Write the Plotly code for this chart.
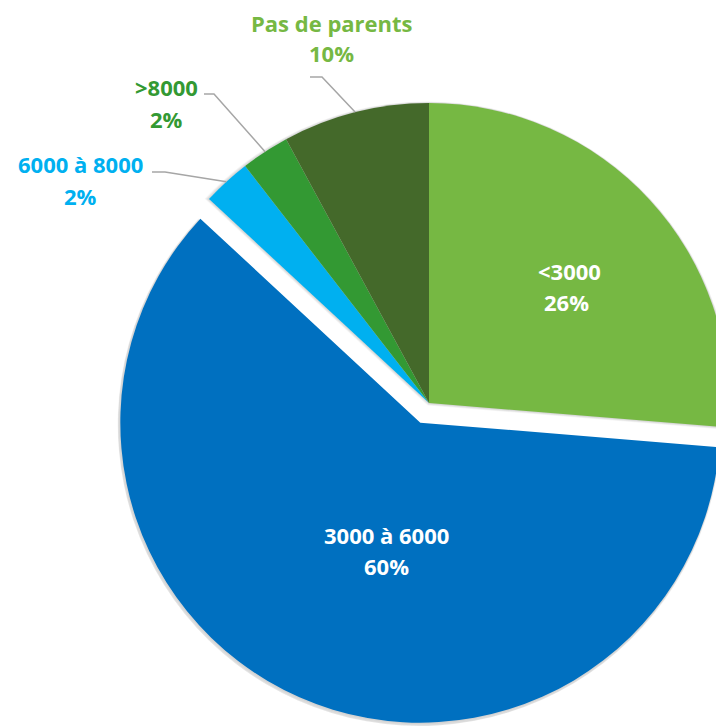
import math
import plotly.graph_objects as go

# ---- data ----
categories = ["<3000", "3000 à 6000", "6000 à 8000", ">8000", "Pas de parents"]
values = [26.3, 60.6, 2.6, 2.6, 7.9]          # shares as drawn (slice angles)
pct_labels = ["26%", "60%", "2%", "2%", "10%"]  # percentages printed on the chart
colors = ["#76B843", "#0070C0", "#00B0F0", "#339933", "#44692A"]
label_colors = ["#FFFFFF", "#FFFFFF", "#00B0F0", "#339933", "#76B843"]
pulled = 1  # index of the exploded slice

# page body has an 8px margin: figure is drawn 8px in from the window corner
OFF = 8
WIN_W, WIN_H = 724, 726
W, H = WIN_W, WIN_H - OFF
CX, CY, R = 429, 403, 300      # window pixel coords of the pie centre
R_EX = 300
PULL_PX = 21.5
FONT = "Open Sans"
FS = 22

total = sum(values)
starts, ends = [], []
acc = 0.0
for v in values:
    starts.append(acc / total * 360)
    acc += v
    ends.append(acc / total * 360)
mids = [(s + e) / 2 for s, e in zip(starts, ends)]


def dom(cx, cy, r):
    cx, cy = cx - OFF, cy - OFF
    r = min(r, W - cx, H - cy, cx, cy)
    return dict(x=[max(0, (cx - r) / W), min(1, (cx + r) / W)],
                y=[max(0, 1 - (cy + r) / H), min(1, 1 - (cy - r) / H)])


def px2paper(x, y):
    return (x - OFF) / W, 1 - (y - OFF) / H


def polar(cx, cy, r, ang):
    a = math.radians(ang)
    return cx + r * math.sin(a), cy - r * math.cos(a)


def pie(cols, domain, hover=True):
    return go.Pie(
        labels=categories, values=values, sort=False, direction="clockwise", rotation=0,
        marker=dict(colors=cols, line=dict(width=0)),
        textinfo="none", hoverinfo="label+percent" if hover else "skip",
        showlegend=False, domain=domain,
    )


fig = go.Figure()
bx, by = polar(CX, CY, PULL_PX, mids[pulled])

# soft drop shadow (a few translucent grey layers)
for k in range(1, 6):
    sh = "rgba(0,0,0,0.035)"
    fig.add_trace(pie([sh if i != pulled else "rgba(0,0,0,0)" for i in range(len(values))],
                      dom(CX - 0.3 * k, CY + 0.5 * k, R + 0.8 * k), hover=False))
    fig.add_trace(pie([sh if i == pulled else "rgba(0,0,0,0)" for i in range(len(values))],
                      dom(bx - 0.3 * k, by + 0.5 * k, R_EX + 0.8 * k), hover=False))

# base pie: every slice except the exploded one
fig.add_trace(pie([c if i != pulled else "rgba(0,0,0,0)" for i, c in enumerate(colors)],
                  dom(CX, CY, R)))
# exploded slice, shifted along its bisector
fig.add_trace(pie([c if i == pulled else "rgba(0,0,0,0)" for i, c in enumerate(colors)],
                  dom(bx, by, R_EX), hover=False))

# label layout (window pixel anchors of name line, percent line)
label_pos = {
    0: ((569, 271), (566, 302)),
    1: ((386, 535), (386, 566)),
    2: ((80, 164), (80, 196)),
    3: ((166, 87), (166, 119)),
    4: ((332, 23), (331, 53)),
}
leader_start = {
    2: (152, 172, 165),
    3: (204, 94, 214),
    4: (310, 77, 322),
}

annotations = []
for i, ((nx, ny), (qx, qy)) in label_pos.items():
    for (x, y), txt in (((nx, ny), categories[i]), ((qx, qy), pct_labels[i])):
        px, py = px2paper(x, y)
        annotations.append(dict(
            x=px, y=py, xref="paper", yref="paper", text="<b>%s</b>" % txt,
            showarrow=False, xanchor="center", yanchor="middle",
            font=dict(family=FONT, size=FS, color=label_colors[i]),
        ))

shapes = []
for i, (x0, y0, x1) in leader_start.items():
    ex, ey = polar(CX, CY, R, mids[i])
    p0 = px2paper(x0, y0)
    p1 = px2paper(x1, y0)
    p2 = px2paper(ex, ey)
    shapes.append(dict(
        type="path", xref="paper", yref="paper",
        path="M %f %f L %f %f L %f %f" % (p0[0], p0[1], p1[0], p1[1], p2[0], p2[1]),
        line=dict(color="#A6A6A6", width=1.5),
    ))

fig.update_layout(
    width=W, height=H, margin=dict(l=0, r=0, t=0, b=0),
    paper_bgcolor="white", plot_bgcolor="white",
    annotations=annotations, shapes=shapes,
)

fig.write_html("out.html")
